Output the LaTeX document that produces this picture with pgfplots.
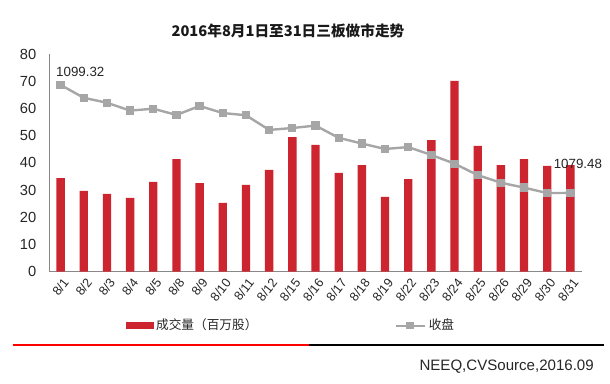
\documentclass[border=0pt]{standalone}
\usepackage{fontspec}
\setmainfont{Liberation Sans}
\newfontfamily\cjk{Noto Sans CJK SC}
\usepackage{pgfplots}
\pgfplotsset{compat=1.18}
\definecolor{barred}{RGB}{205,37,48}
\definecolor{linegray}{RGB}{166,166,166}
\definecolor{axgray}{RGB}{137,137,137}
\begin{document}
\begin{tikzpicture}
\path[use as bounding box] (0,0) rectangle (457.5pt,288pt);
\begin{axis}[
 at={(36.75pt,84.2pt)}, anchor=south west,
 scale only axis, width=399.75pt, height=163.3pt,
 xmin=-0.5, xmax=22.5, ymin=0, ymax=80,
 axis x line*=bottom, axis y line*=left,
 axis line style={axgray, line width=0.75pt, -},
 ytick={0,10,...,80},
 xtick={0,...,22},
 xticklabels={8/1,8/2,8/3,8/4,8/5,8/8,8/9,8/10,8/11,8/12,8/15,8/16,8/17,8/18,8/19,8/22,8/23,8/24,8/25,8/26,8/29,8/30,8/31},
 major tick length=0pt,
 tick label style={font=\fontsize{11}{13}\selectfont, text=black!85},
 xticklabel style={font=\fontsize{9.5}{11}\selectfont, rotate=52, anchor=east, yshift=-7pt, xshift=1pt},
 yticklabel style={xshift=-6pt},
 /pgf/number format/assume math mode=true,
 ybar, bar width=0.36,
 clip=false,
]
\addplot[fill=barred, draw=none] coordinates {
(0,34.4) (1,29.7) (2,28.6) (3,27.1) (4,33.0) (5,41.4) (6,32.6) (7,25.3) (8,31.9) (9,37.4) (10,49.5) (11,46.6)
(12,36.3) (13,39.2) (14,27.5) (15,34.0) (16,48.4) (17,70.1) (18,46.2) (19,39.2) (20,41.4) (21,38.9) (22,39.2)};
\end{axis}
\begin{axis}[
 at={(36.75pt,84.2pt)}, anchor=south west,
 scale only axis, width=399.75pt, height=163.3pt,
 xmin=-0.5, xmax=22.5, ymin=1065, ymax=1105,
 hide axis, clip=false,
 legend columns=2,
 legend style={at={(axis description cs:0.137,-0.247)}, anchor=west, draw=none, fill=none,
   font=\cjk\fontsize{9.5}{11}\selectfont, text=black!85,
   /tikz/every even column/.append style={column sep=101pt}},
 legend cell align=left,
]
\addlegendimage{legend image code/.code={\fill[barred] (0pt,-2.25pt) rectangle (20pt,2.25pt);}}
\addlegendentry{成交量（百万股）}
\addplot[linegray, line width=1.8pt, mark=square*, mark size=2.2pt, mark options={fill=linegray, draw=linegray},
 legend image code/.code={\draw[linegray, line width=1.5pt] (0pt,0pt) -- (22pt,0pt); \fill[linegray] (8.5pt,-2pt) rectangle (12.5pt,2pt);}]
coordinates {
(0,1099.32) (1,1096.95) (2,1096.05) (3,1094.6) (4,1094.95) (5,1093.8) (6,1095.45) (7,1094.15) (8,1093.75) (9,1091.05)
(10,1091.4) (11,1091.85) (12,1089.6) (13,1088.55) (14,1087.55) (15,1087.9) (16,1086.45) (17,1084.85) (18,1082.75)
(19,1081.35) (20,1080.45) (21,1079.45) (22,1079.48)};
\addlegendentry{收盘}
\node[anchor=base west, inner sep=0pt, xshift=-3.5pt, yshift=6pt, font=\fontsize{10}{12}\selectfont, text=black!85] at (axis cs:0,1099.32) {1099.32};
\node[anchor=base, inner sep=0pt, xshift=5.6pt, yshift=18.5pt, font=\fontsize{10}{12}\selectfont, text=black!85] at (axis cs:22,1079.48) {1079.48};
\end{axis}
\node[font=\cjk\bfseries\fontsize{11}{14}\selectfont, text=black!90] at (216pt,264.75pt) {2016年8月1日至31日三板做市走势};
\draw[red, line width=1.5pt] (9.4pt,29.25pt) -- (231.5pt,29.25pt);
\draw[black, line width=1.5pt] (231.5pt,29.25pt) -- (453pt,29.25pt);
\node[anchor=east, inner sep=0pt, font=\fontsize{11.3}{13}\selectfont, text=black!85] at (445.5pt,13pt) {NEEQ,CVSource,2016.09};
\end{tikzpicture}
\end{document}
